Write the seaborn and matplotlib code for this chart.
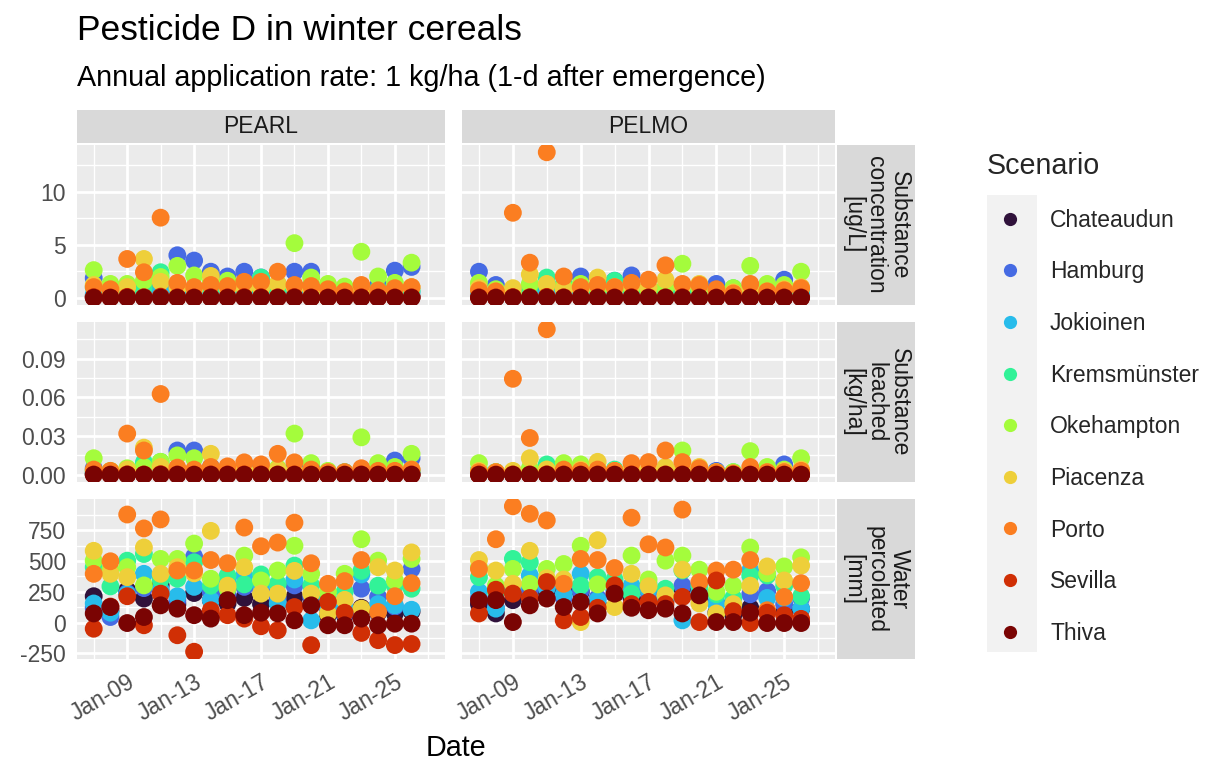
import numpy as np
import pandas as pd
import matplotlib as mpl
import matplotlib.pyplot as plt
import matplotlib.dates as mdates
from matplotlib.lines import Line2D
from matplotlib.patches import Rectangle
from matplotlib.ticker import FormatStrFormatter
import seaborn as sns

sns.set_style("white")
plt.rcParams["font.family"] = ["Liberation Sans", "DejaVu Sans"]
plt.rcParams["axes.unicode_minus"] = False

## datos

years = list(range(2007, 2027))
scenarios = ["Chateaudun", "Hamburg", "Jokioinen", "Kremsmünster", "Okehampton",
             "Piacenza", "Porto", "Sevilla", "Thiva"]
models = ["PEARL", "PELMO"]
variables = ["Substance\nconcentration\n[ug/L]", "Substance\nleached\n[kg/ha]",
             "Water\npercolated\n[mm]"]

# substance concentration [ug/L], one list per scenario
conc_pearl = [
    [0.10, 0.05, 0.10, 0.10, 0.20, 0.10, 0.10, 0.10, 0.05, 0.10, 0.10, 0.10, 0.10, 0.10, 0.05, 0.05, 0.10, 0.10, 0.10, 0.10],
    [1.85, 0.60, 0.70, 1.20, 1.00, 4.00, 3.50, 2.45, 2.00, 2.45, 1.90, 1.20, 2.45, 2.45, 0.60, 0.50, 0.80, 1.15, 2.55, 2.90],
    [0.30, 0.20, 0.30, 0.40, 0.50, 0.60, 0.50, 0.40, 0.40, 0.50, 0.40, 0.30, 0.50, 0.40, 0.20, 0.20, 0.30, 0.30, 0.40, 0.50],
    [1.00, 0.50, 0.60, 1.00, 2.40, 1.20, 0.80, 0.80, 1.00, 0.80, 1.90, 0.70, 1.00, 1.20, 0.50, 0.40, 0.60, 0.80, 0.70, 0.70],
    [2.60, 1.30, 1.30, 1.60, 1.95, 3.00, 2.10, 1.50, 1.60, 1.10, 1.00, 1.30, 5.14, 1.90, 1.30, 1.05, 4.33, 2.00, 1.40, 3.30],
    [1.20, 0.70, 1.00, 3.65, 1.50, 1.00, 0.80, 2.05, 0.90, 1.00, 0.90, 1.30, 1.00, 0.80, 0.60, 0.50, 0.70, 0.60, 0.80, 1.00],
    [1.00, 0.80, 3.65, 2.40, 7.54, 1.40, 1.00, 1.20, 1.10, 1.50, 1.50, 2.45, 1.20, 1.10, 0.80, 0.60, 1.20, 0.70, 0.90, 1.00],
    [0.05, 0.02, 0.08, 0.05, 0.10, 0.04, 0.03, 0.05, 0.04, 0.06, 0.05, 0.04, 0.06, 0.03, 0.02, 0.02, 0.04, 0.03, 0.03, 0.04],
    [0.00, 0.00, 0.01, 0.00, 0.01, 0.00, 0.00, 0.00, 0.00, 0.00, 0.00, 0.00, 0.01, 0.00, 0.00, 0.00, 0.00, 0.00, 0.00, 0.00],
]
conc_pelmo = [
    [0.10, 0.05, 0.05, 0.10, 0.10, 0.10, 0.10, 0.05, 0.10, 0.10, 0.05, 0.05, 0.10, 0.05, 0.05, 0.05, 0.05, 0.05, 0.05, 0.10],
    [2.45, 1.20, 0.30, 0.80, 0.90, 0.70, 2.00, 0.80, 1.60, 2.10, 0.90, 0.70, 0.80, 0.90, 1.30, 0.50, 0.70, 0.80, 1.70, 0.90],
    [0.30, 0.20, 0.10, 0.30, 0.40, 0.30, 0.40, 0.30, 0.40, 0.40, 0.30, 0.30, 0.30, 0.30, 0.20, 0.20, 0.30, 0.20, 0.30, 0.30],
    [0.80, 0.50, 0.40, 1.00, 1.90, 1.30, 0.90, 0.70, 1.60, 0.80, 0.60, 0.60, 0.80, 0.60, 0.40, 0.90, 0.60, 0.50, 0.60, 0.80],
    [1.40, 0.80, 0.50, 1.30, 1.20, 1.00, 1.30, 0.90, 0.80, 1.00, 0.70, 1.00, 3.20, 0.90, 0.50, 0.90, 3.00, 1.30, 1.20, 2.45],
    [0.90, 0.60, 0.90, 2.20, 1.30, 0.80, 0.80, 1.90, 1.00, 1.20, 1.00, 1.70, 1.10, 1.30, 0.60, 0.50, 0.90, 0.60, 0.80, 1.00],
    [0.70, 0.60, 8.00, 3.30, 13.70, 2.00, 1.00, 1.20, 1.00, 1.40, 1.70, 3.05, 1.30, 1.20, 0.80, 0.40, 1.30, 0.60, 0.70, 0.90],
    [0.04, 0.03, 0.06, 0.05, 0.08, 0.04, 0.03, 0.04, 0.03, 0.05, 0.04, 0.04, 0.05, 0.03, 0.02, 0.02, 0.03, 0.02, 0.03, 0.03],
    [0.00, 0.00, 0.01, 0.00, 0.01, 0.00, 0.00, 0.00, 0.00, 0.00, 0.00, 0.00, 0.00, 0.00, 0.00, 0.00, 0.00, 0.00, 0.00, 0.00],
]

# substance leached [kg/ha]
leach_pearl = [
    [0.0005, 0.0002, 0.0005, 0.0005, 0.0010, 0.0005, 0.0005, 0.0004, 0.0003, 0.0005, 0.0004, 0.0004, 0.0005, 0.0004, 0.0002, 0.0002, 0.0004, 0.0003, 0.0004, 0.0005],
    [0.0050, 0.0020, 0.0020, 0.0040, 0.0040, 0.0188, 0.0188, 0.0060, 0.0050, 0.0060, 0.0050, 0.0040, 0.0060, 0.0060, 0.0020, 0.0020, 0.0030, 0.0040, 0.0110, 0.0128],
    [0.0010, 0.0010, 0.0010, 0.0020, 0.0020, 0.0020, 0.0020, 0.0010, 0.0020, 0.0020, 0.0010, 0.0010, 0.0020, 0.0010, 0.0010, 0.0010, 0.0010, 0.0010, 0.0010, 0.0020],
    [0.0030, 0.0010, 0.0020, 0.0096, 0.0100, 0.0040, 0.0030, 0.0030, 0.0030, 0.0030, 0.0040, 0.0020, 0.0030, 0.0030, 0.0010, 0.0010, 0.0020, 0.0020, 0.0020, 0.0030],
    [0.0128, 0.0030, 0.0050, 0.0060, 0.0100, 0.0150, 0.0128, 0.0050, 0.0040, 0.0030, 0.0030, 0.0050, 0.0319, 0.0090, 0.0030, 0.0020, 0.0290, 0.0090, 0.0060, 0.0162],
    [0.0030, 0.0020, 0.0040, 0.0210, 0.0060, 0.0040, 0.0030, 0.0162, 0.0040, 0.0040, 0.0030, 0.0040, 0.0030, 0.0030, 0.0020, 0.0010, 0.0020, 0.0020, 0.0030, 0.0040],
    [0.0040, 0.0030, 0.0319, 0.0188, 0.0626, 0.0055, 0.0040, 0.0060, 0.0065, 0.0096, 0.0080, 0.0162, 0.0096, 0.0040, 0.0020, 0.0020, 0.0050, 0.0030, 0.0030, 0.0040],
    [0.0002, 0.0001, 0.0003, 0.0002, 0.0004, 0.0002, 0.0001, 0.0002, 0.0002, 0.0002, 0.0002, 0.0002, 0.0002, 0.0001, 0.0001, 0.0001, 0.0002, 0.0001, 0.0001, 0.0002],
    [0.0000, 0.0000, 0.0000, 0.0000, 0.0000, 0.0000, 0.0000, 0.0000, 0.0000, 0.0000, 0.0000, 0.0000, 0.0000, 0.0000, 0.0000, 0.0000, 0.0000, 0.0000, 0.0000, 0.0000],
]
leach_pelmo = [
    [0.0004, 0.0002, 0.0003, 0.0004, 0.0005, 0.0004, 0.0004, 0.0003, 0.0004, 0.0004, 0.0003, 0.0003, 0.0004, 0.0003, 0.0002, 0.0002, 0.0003, 0.0002, 0.0003, 0.0004],
    [0.0030, 0.0020, 0.0010, 0.0020, 0.0020, 0.0020, 0.0030, 0.0020, 0.0030, 0.0040, 0.0020, 0.0020, 0.0030, 0.0020, 0.0030, 0.0010, 0.0020, 0.0020, 0.0080, 0.0030],
    [0.0010, 0.0005, 0.0005, 0.0010, 0.0010, 0.0010, 0.0010, 0.0010, 0.0010, 0.0010, 0.0010, 0.0010, 0.0010, 0.0010, 0.0005, 0.0005, 0.0010, 0.0005, 0.0010, 0.0010],
    [0.0040, 0.0020, 0.0010, 0.0030, 0.0080, 0.0030, 0.0030, 0.0020, 0.0040, 0.0030, 0.0020, 0.0020, 0.0030, 0.0020, 0.0010, 0.0020, 0.0020, 0.0010, 0.0020, 0.0030],
    [0.0090, 0.0020, 0.0020, 0.0050, 0.0040, 0.0090, 0.0080, 0.0040, 0.0030, 0.0040, 0.0030, 0.0040, 0.0188, 0.0040, 0.0020, 0.0020, 0.0183, 0.0060, 0.0040, 0.0128],
    [0.0030, 0.0020, 0.0030, 0.0128, 0.0040, 0.0030, 0.0040, 0.0100, 0.0030, 0.0040, 0.0040, 0.0060, 0.0040, 0.0060, 0.0020, 0.0010, 0.0030, 0.0020, 0.0030, 0.0040],
    [0.0020, 0.0020, 0.0744, 0.0285, 0.1128, 0.0040, 0.0030, 0.0040, 0.0030, 0.0090, 0.0098, 0.0188, 0.0098, 0.0050, 0.0020, 0.0010, 0.0060, 0.0020, 0.0020, 0.0030],
    [0.0002, 0.0001, 0.0002, 0.0002, 0.0003, 0.0002, 0.0001, 0.0002, 0.0001, 0.0002, 0.0002, 0.0002, 0.0002, 0.0001, 0.0001, 0.0001, 0.0001, 0.0001, 0.0001, 0.0001],
    [0.0000, 0.0000, 0.0000, 0.0000, 0.0000, 0.0000, 0.0000, 0.0000, 0.0000, 0.0000, 0.0000, 0.0000, 0.0000, 0.0000, 0.0000, 0.0000, 0.0000, 0.0000, 0.0000, 0.0000],
]

# water percolated [mm]
water_pearl = [
    [214, 100, 262, 195, 302, 150, 240, 180, 155, 200, 150, 160, 208, 150, 60, 60, 120, 80, 74, 90],
    [120, 45, 240, 280, 260, 180, 536, 248, 230, 290, 260, 200, 302, 210, 110, 74, 275, 208, 130, 436],
    [155, 80, 230, 396, 270, 214, 290, 182, 342, 383, 300, 155, 350, 18, 130, 120, 391, 150, 140, 104],
    [450, 294, 503, 557, 350, 356, 490, 300, 380, 310, 391, 315, 463, 302, 200, 250, 420, 300, 300, 275],
    [503, 430, 450, 302, 517, 517, 642, 356, 275, 544, 342, 423, 624, 396, 250, 396, 677, 503, 342, 517],
    [583, 396, 369, 610, 396, 450, 400, 745, 300, 450, 235, 235, 420, 235, 74, 185, 113, 450, 423, 570],
    [396, 498, 878, 765, 838, 423, 423, 508, 482, 772, 620, 650, 812, 482, 315, 337, 508, 86, 214, 320],
    [-50, 130, 214, -22, 235, -103, -237, 100, 60, 32, -30, -63, 126, -183, 168, 80, -84, -143, -183, -174],
    [74, 126, -4, 45, 140, 113, 60, 32, 182, 60, 80, 74, 18, 140, -22, -22, 32, -22, -9, -9],
]
water_pelmo = [
    [150, 74, 182, 235, 260, 248, 248, 150, 230, 200, 180, 180, 275, 200, 80, 60, 120, 90, 80, 110],
    [200, 120, 250, 260, 300, 200, 260, 200, 262, 285, 250, 200, 300, 230, 162, 100, 230, 255, 150, 200],
    [250, 113, 280, 383, 280, 230, 396, 182, 260, 300, 270, 200, 18, 250, 150, 100, 423, 200, 200, 113],
    [369, 250, 517, 490, 350, 320, 300, 369, 350, 235, 315, 275, 423, 300, 230, 200, 380, 383, 300, 214],
    [450, 300, 436, 315, 436, 476, 624, 310, 300, 544, 350, 503, 544, 430, 250, 300, 610, 400, 456, 530],
    [508, 423, 315, 583, 360, 350, 4, 669, 126, 396, 295, 221, 430, 155, 74, 150, 300, 456, 342, 463],
    [436, 677, 945, 884, 830, 315, 517, 508, 443, 852, 636, 610, 918, 329, 423, 430, 508, 100, 208, 320],
    [74, 267, 235, 200, 329, 18, 45, 120, 302, 150, 168, 150, 208, 4, 342, 93, -4, 80, 60, 30],
    [182, 182, 4, 140, 195, 126, 168, 74, 235, 120, 100, 113, 74, 221, 4, 4, 80, -4, -4, -4],
]

tables = {
    ("PEARL", 0): conc_pearl, ("PELMO", 0): conc_pelmo,
    ("PEARL", 1): leach_pearl, ("PELMO", 1): leach_pelmo,
    ("PEARL", 2): water_pearl, ("PELMO", 2): water_pelmo,
}

registros = []
for (model, var), table in tables.items():
    for scen, vals in zip(scenarios, table):
        for yr, v in zip(years, vals):
            registros.append({"model": model, "var": var, "Scenario": scen,
                              "year": yr, "value": v})
df = pd.DataFrame(registros)
df["Date"] = pd.to_datetime(df["year"].astype(str) + "-01-01")

colores = [mpl.colormaps["turbo"](v) for v in np.linspace(0, 1, len(scenarios))]

## figura

W, H = 1211, 765
fig = plt.figure(figsize=(W / 100, H / 100), dpi=100)


def px_axes(left, top, right, bottom):
    return fig.add_axes([left / W, 1 - bottom / H, (right - left) / W, (bottom - top) / H])


col_x = [(77, 445), (462, 835)]
row_y = [(145, 305), (322, 482), (499, 659)]
y_major = [[0, 5, 10], [0, 0.03, 0.06, 0.09], [-250, 0, 250, 500, 750]]
y_minor = [[2.5, 7.5, 12.5], [0.015, 0.045, 0.075, 0.105], [-125, 125, 375, 625, 875]]
x_major = [pd.Timestamp(f"{y}-01-01") for y in (2009, 2013, 2017, 2021, 2025)]
x_minor = [pd.Timestamp(f"{y}-01-01") for y in (2007, 2011, 2015, 2019, 2023, 2027)]

for r in range(3):
    sub = df[df["var"] == r]
    lo, hi = sub["value"].min(), sub["value"].max()
    pad = 0.05 * (hi - lo)
    for c, model in enumerate(models):
        ax = px_axes(col_x[c][0], row_y[r][0], col_x[c][1], row_y[r][1])
        d = sub[sub["model"] == model]
        sns.scatterplot(data=d, x="Date", y="value", hue="Scenario",
                        hue_order=scenarios, palette=colores, s=165,
                        linewidth=0, legend=False, ax=ax)
        ax.set_facecolor("#ebebeb")
        for s in ax.spines.values():
            s.set_visible(False)
        ax.set_xlim(pd.Timestamp("2006-01-01"), pd.Timestamp("2028-01-01"))
        ax.set_ylim(lo - pad, hi + pad)
        ax.set_xticks(x_major)
        ax.set_xticks(x_minor, minor=True)
        ax.set_yticks(y_major[r])
        ax.set_yticks(y_minor[r], minor=True)
        ax.xaxis.set_major_formatter(mdates.DateFormatter("%b-%y"))
        if r == 1:
            ax.yaxis.set_major_formatter(FormatStrFormatter("%.2f"))
        ax.set_axisbelow(True)
        ax.grid(which="major", color="white", linewidth=2.0)
        ax.grid(which="minor", color="white", linewidth=1.0)
        ax.tick_params(which="minor", length=0)
        ax.tick_params(which="major", length=5, width=1.1, color="#333333",
                       labelsize=16.5, labelcolor="#4d4d4d", pad=3)
        ax.set_xlabel("")
        ax.set_ylabel("")
        if c == 1:
            ax.tick_params(axis="y", left=False, labelleft=False)
        if r < 2:
            ax.tick_params(axis="x", bottom=False, labelbottom=False)
        else:
            plt.setp(ax.get_xticklabels(), rotation=30, ha="right",
                     rotation_mode="anchor")

# strips
for c, model in enumerate(models):
    sax = px_axes(col_x[c][0], 110, col_x[c][1], 143)
    sax.set_facecolor("#d9d9d9")
    sax.set_xticks([])
    sax.set_yticks([])
    for s in sax.spines.values():
        s.set_visible(False)
    sax.text(0.5, 0.5, model, ha="center", va="center", fontsize=16.5,
             color="#1a1a1a", transform=sax.transAxes)

for r, var in enumerate(variables):
    sax = px_axes(837, row_y[r][0], 915, row_y[r][1])
    sax.set_facecolor("#d9d9d9")
    sax.set_xticks([])
    sax.set_yticks([])
    for s in sax.spines.values():
        s.set_visible(False)
    sax.text(0.5, 0.5, var, ha="center", va="center", fontsize=16.5,
             rotation=270, multialignment="center", linespacing=1.0,
             color="#1a1a1a", transform=sax.transAxes)

# textos
fig.text(77 / W, 1 - 40 / H, "Pesticide D in winter cereals", fontsize=25.5,
         va="baseline", ha="left", color="black")
fig.text(77 / W, 1 - 86 / H, "Annual application rate: 1 kg/ha (1-d after emergence)",
         fontsize=20.7, va="baseline", ha="left", color="black")
fig.text(456 / W, 1 - 756 / H, "Date", fontsize=20.7, va="baseline", ha="center",
         color="black")

# leyenda
fig.patches.append(Rectangle((987 / W, 1 - 652 / H), 50 / W, 457 / H,
                             transform=fig.transFigure, facecolor="#f2f2f2",
                             edgecolor="none", zorder=0))
handles = [Line2D([], [], marker="o", linestyle="", markersize=9.5,
                  markerfacecolor=col, markeredgewidth=0, label=s)
           for s, col in zip(scenarios, colores)]
fig.legend(handles=handles, loc="upper left", bbox_to_anchor=(987 / W, 1 - 152 / H),
           frameon=False, title="Scenario", title_fontsize=20.6, fontsize=16.5,
           labelspacing=1.25, handlelength=2.0, handletextpad=0.75, borderpad=0,
           borderaxespad=0, alignment="left")

fig.savefig("out.png", dpi=100)
plt.close()
